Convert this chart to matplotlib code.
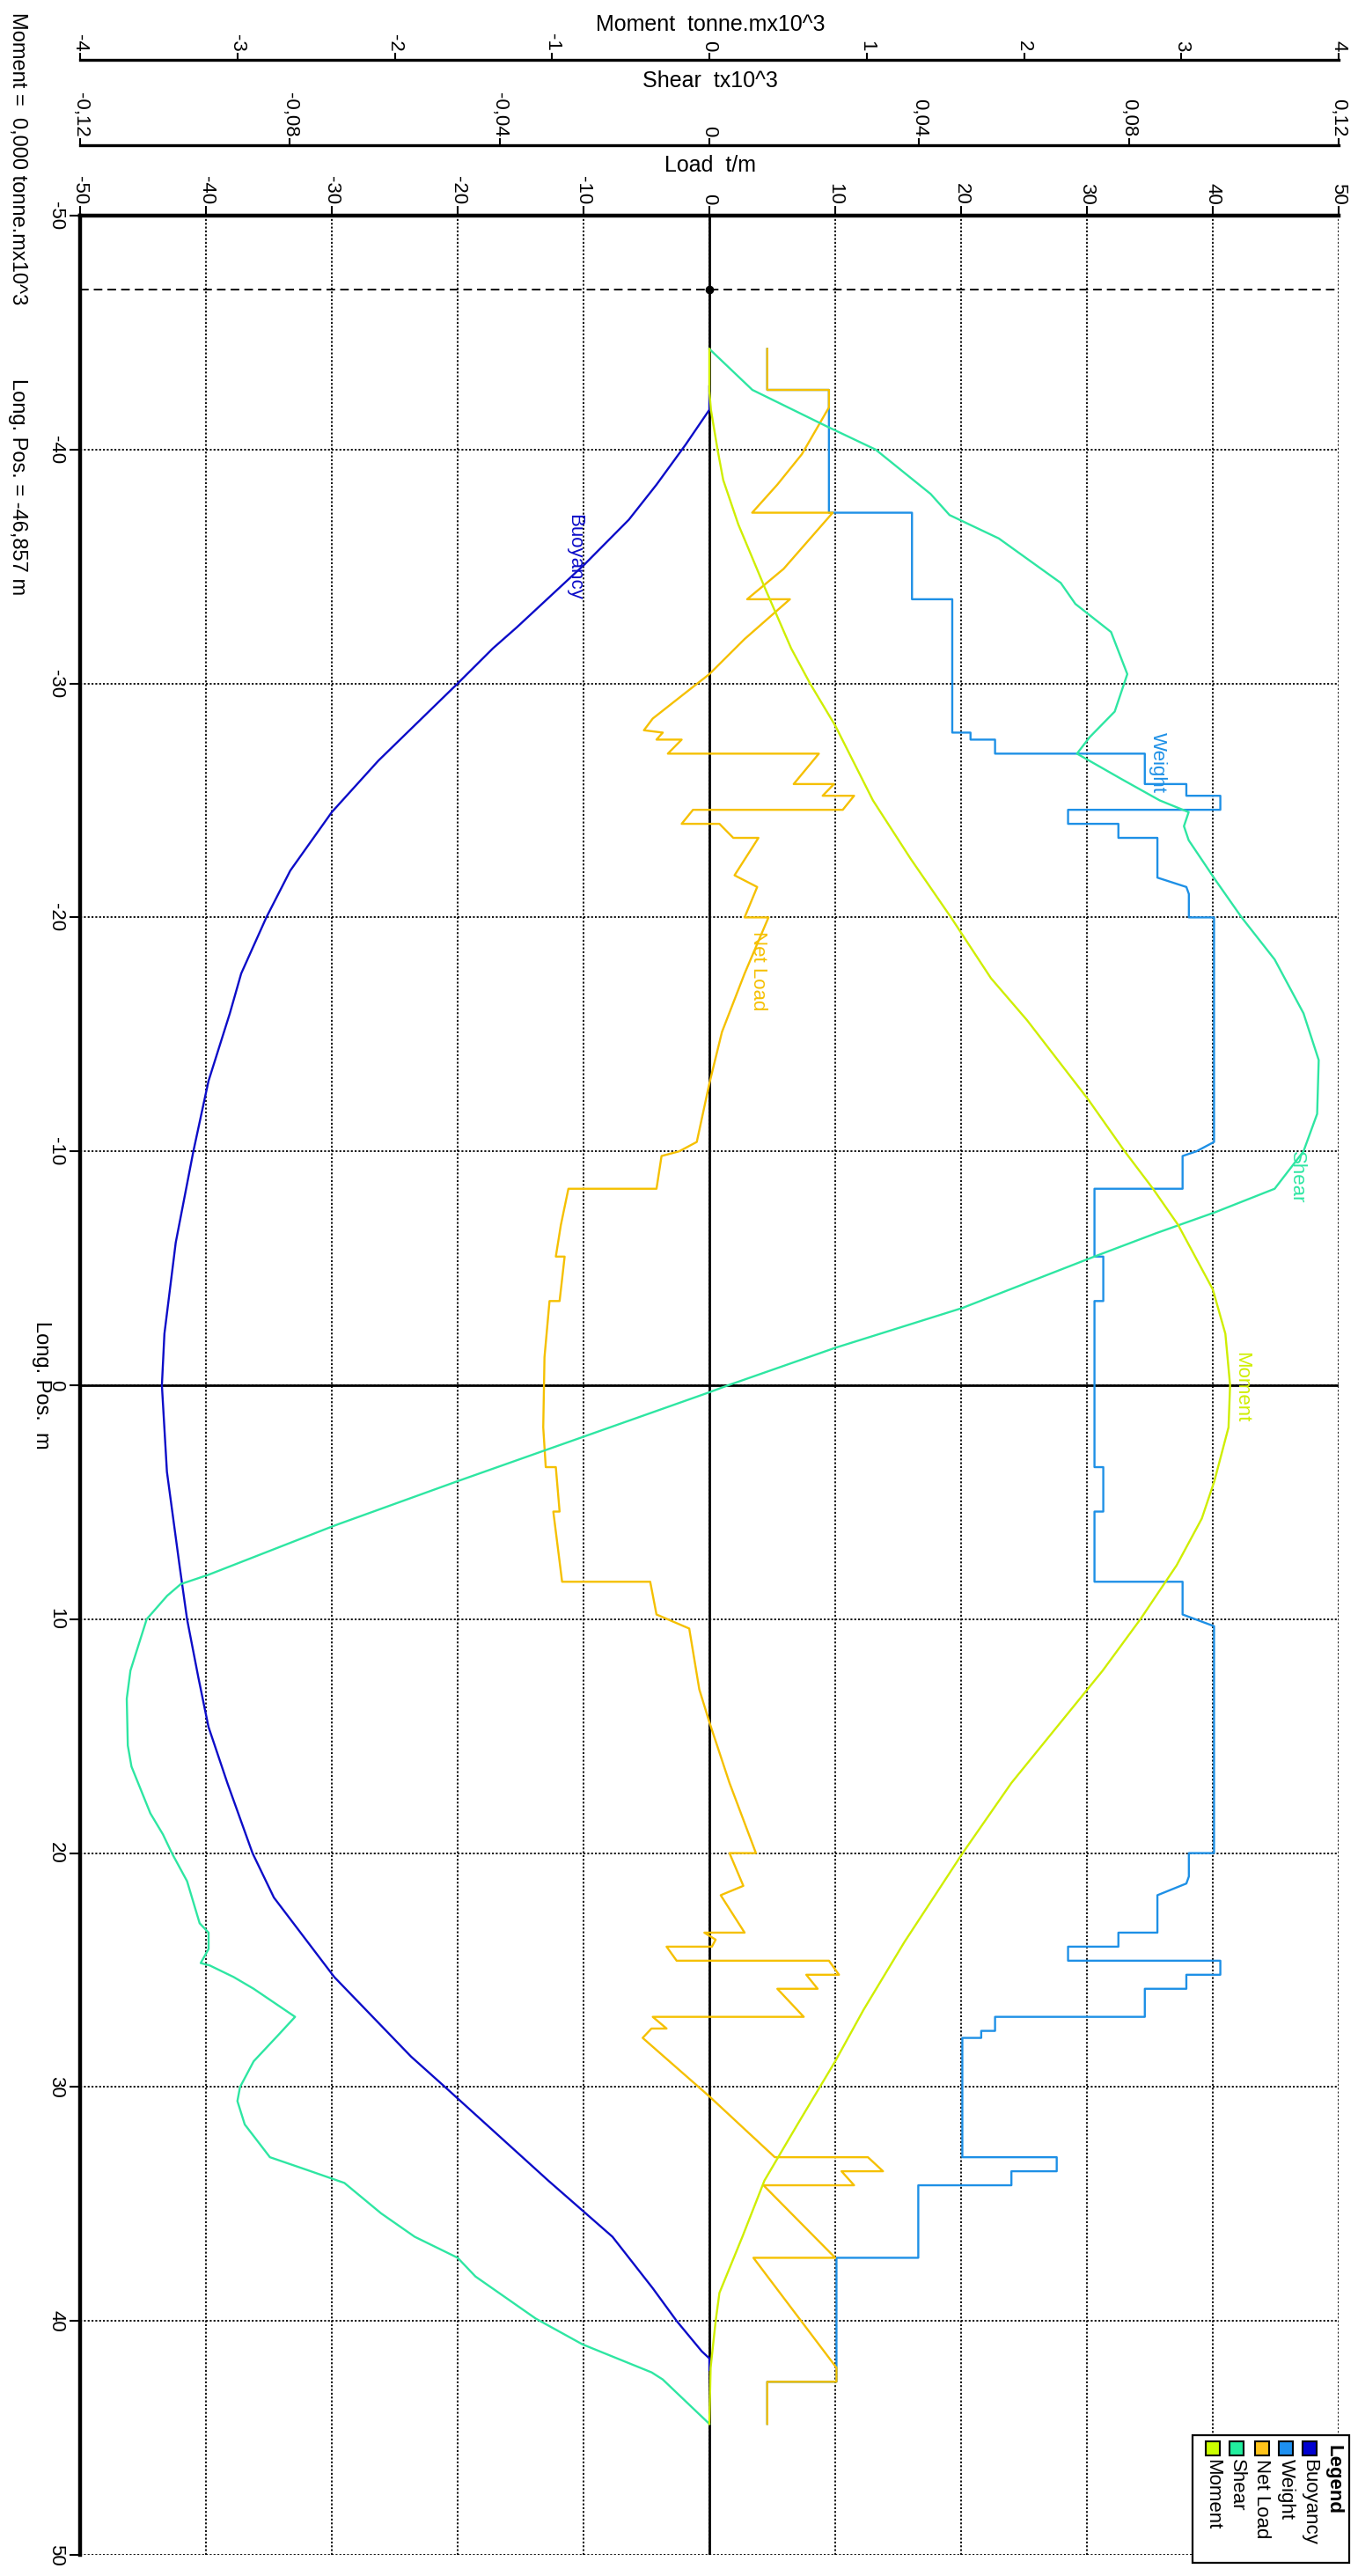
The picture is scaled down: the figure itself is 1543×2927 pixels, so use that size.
import matplotlib
matplotlib.use("Agg")
import matplotlib.pyplot as plt
from matplotlib.patches import Rectangle

plt.rcParams['font.family'] = ['Liberation Sans', 'DejaVu Sans']

# ---------------- data ----------------
load_ticks = [-50, -40, -30, -20, -10, 0, 10, 20, 30, 40, 50]
load_tick_labels = ["-50", "-40", "-30", "-20", "-10", "0", "10", "20", "30", "40", "50"]
shear_ticks = [-0.12, -0.08, -0.04, 0.0, 0.04, 0.08, 0.12]
shear_tick_labels = ["-0,12", "-0,08", "-0,04", "0", "0,04", "0,08", "0,12"]
moment_ticks = [-4, -3, -2, -1, 0, 1, 2, 3, 4]
moment_tick_labels = ["-4", "-3", "-2", "-1", "0", "1", "2", "3", "4"]
pos_ticks = [-50, -40, -30, -20, -10, 0, 10, 20, 30, 40, 50]
pos_tick_labels = ["-50", "-40", "-30", "-20", "-10", "0", "10", "20", "30", "40", "50"]

cursor_pos = -46.857
cursor_moment = 0.0

buoy_pos = [-42.7, -41.7, -40.2, -38.5, -37.0, -35.1, -32.4, -31.5, -30.0, -26.7, -24.5,
            -22.0, -20.0, -17.6, -15.9, -13.0, -10.0, -6.1, -2.2, 0.0, 3.7, 7.7, 10.0,
            12.5, 14.6, 17.0, 20.0, 21.9, 25.3, 28.7, 30.0, 34.0, 36.4, 38.6, 40.0,
            41.3, 41.6, 42.1]
buoy_val = [0.0, 0.0, -1.9, -4.2, -6.4, -9.9, -15.3, -17.2, -20.0, -26.3, -30.0,
            -33.3, -35.2, -37.2, -38.1, -39.8, -41.0, -42.4, -43.3, -43.5, -43.1, -42.1, -41.5,
            -40.6, -39.8, -38.3, -36.3, -34.6, -29.8, -23.7, -21.0, -12.8, -7.7, -4.5, -2.6,
            -0.6, 0.0, 0.0]

weight_pos = [-44.3, -42.55, -42.55, -37.3, -37.3, -33.6, -33.6, -27.9, -27.9, -27.6, -27.6,
              -27.0, -27.0, -25.7, -25.7, -25.2, -25.2, -24.6, -24.6, -24.0, -24.0, -23.4,
              -23.4, -21.7, -21.3, -21.0, -20.0, -20.0, -10.4, -10.0, -9.8, -8.4, -8.4,
              -5.5, -5.5, -3.6, -3.6, 3.5, 3.5, 5.4, 5.4, 8.4, 8.4, 9.8, 10.3, 20.0, 20.0,
              21.0, 21.3, 21.8, 23.4, 23.4, 24.0, 24.0, 24.6, 24.6, 25.2, 25.2, 25.8, 25.8,
              27.0, 27.0, 27.6, 27.6, 27.9, 27.9, 33.0, 33.0, 33.6, 33.6, 34.2, 34.2, 37.3,
              37.3, 42.6, 42.6, 44.4]
weight_val = [4.6, 4.6, 9.5, 9.5, 16.1, 16.1, 19.3, 19.3, 20.75, 20.75, 22.7,
              22.7, 34.6, 34.6, 37.9, 37.9, 40.6, 40.6, 28.5, 28.5, 32.5, 32.5,
              35.6, 35.6, 37.9, 38.1, 38.1, 40.1, 40.1, 38.7, 37.6, 37.6, 30.6,
              30.6, 31.3, 31.3, 30.6, 30.6, 31.3, 31.3, 30.6, 30.6, 37.6, 37.6, 40.1, 40.1, 38.1,
              38.1, 37.9, 35.6, 35.6, 32.5, 32.5, 28.5, 28.5, 40.6, 40.6, 37.9, 37.9, 34.6,
              34.6, 22.7, 22.7, 21.6, 21.6, 20.1, 20.1, 27.6, 27.6, 24.0, 24.0, 16.6, 16.6,
              10.1, 10.1, 4.6, 4.6]

net_pos = [-44.3, -42.55, -42.55, -41.8, -39.8, -38.5, -37.3, -37.3, -34.9, -33.6, -33.6,
           -31.9, -30.4, -29.6, -28.5, -28.0, -27.9, -27.6, -27.6, -27.0, -27.0, -25.7,
           -25.7, -25.2, -25.2, -24.6, -24.6, -24.0, -24.0, -23.4, -23.4, -21.8, -21.3,
           -20.0, -20.0, -17.6, -15.1, -12.9, -10.4, -10.0, -9.8, -8.4, -8.4, -6.85, -5.5,
           -5.5, -3.6, -3.6, -1.2, 1.8, 3.5, 3.5, 5.4, 5.4, 8.4, 8.4, 9.8, 10.4, 13.0,
           14.4, 17.0, 20.0, 20.0, 21.4, 21.8, 23.4, 23.4, 23.7, 24.0, 24.0, 24.6, 24.6,
           25.2, 25.2, 25.8, 25.8, 27.0, 27.0, 27.5, 27.5, 27.9, 30.4, 31.8, 33.0, 33.0,
           33.6, 33.6, 34.2, 34.2, 37.3, 37.3, 42.0, 42.6, 42.6, 44.4]
net_val = [4.6, 4.6, 9.5, 9.5, 7.35, 5.4, 3.4, 9.8, 5.9, 3.0, 6.4,
           2.8, 0.0, -1.9, -4.5, -5.2, -3.7, -4.2, -2.2, -3.3, 8.7, 6.7,
           9.9, 9.0, 11.5, 10.6, -1.3, -2.2, 0.8, 1.9, 3.9, 2.0, 3.8,
           2.8, 4.7, 2.8, 1.0, 0.0, -1.0, -2.4, -3.8, -4.2, -11.2, -11.8, -12.2,
           -11.5, -11.9, -12.7, -13.1, -13.2, -13.0, -12.2, -11.9, -12.4, -11.7, -4.7, -4.2, -1.6, -0.8,
           0.0, 1.6, 3.7, 1.6, 2.7, 0.9, 2.8, -0.4, 0.5, 0.2, -3.4, -2.6, 9.5,
           10.3, 7.7, 8.6, 5.4, 7.5, -4.5, -3.4, -4.6, -5.3, 0.0, 2.8, 5.2, 12.6,
           13.8, 10.5, 11.5, 4.3, 10.0, 3.5, 10.1, 10.1, 4.6, 4.6]

shear_pos = [-44.3, -42.55, -41.0, -40.0, -38.1, -37.2, -36.2, -34.3, -33.4, -32.2, -30.4,
             -28.8, -27.7, -27.0, -25.9, -25.0, -24.5, -23.9, -23.3, -21.6, -20.0, -18.2,
             -15.9, -13.9, -11.6, -10.0, -8.4, -7.4, -6.5, -5.5, -3.3, -1.6, 0.0, 0.3,
             2.2, 4.1, 6.0, 8.1, 8.5, 9.0, 10.0, 12.2, 13.4, 15.4, 16.3, 18.3, 19.2, 20.0,
             21.2, 23.0, 23.4, 24.1, 24.7, 24.8, 25.3, 25.8, 27.0, 27.8, 28.9, 30.0, 30.6,
             31.6, 33.0, 33.5, 34.1, 35.4, 36.4, 37.3, 38.1, 39.9, 41.0, 42.2, 42.5, 44.4]
shear_val = [0.0, 0.0082, 0.0223, 0.0317, 0.0422, 0.0458, 0.0552, 0.0670, 0.0698, 0.0766, 0.0797,
             0.0773, 0.0725, 0.0701, 0.0787, 0.0859, 0.0914, 0.0905, 0.0914, 0.0965, 0.1015, 0.1078,
             0.1133, 0.1162, 0.1159, 0.1133, 0.1078, 0.0965, 0.0852, 0.0734, 0.0482, 0.0240, 0.0036, 0.0,
             -0.0240, -0.0480, -0.0715, -0.0955, -0.1008, -0.1034, -0.1073, -0.1104, -0.1111, -0.1109,
             -0.1102, -0.1066, -0.1042, -0.1025,
             -0.0996, -0.0972, -0.0955, -0.0955, -0.0970, -0.0953, -0.0907, -0.0869, -0.0790, -0.0823,
             -0.0869, -0.0895, -0.0900,
             -0.0886, -0.0838, -0.0773, -0.0696, -0.0626, -0.0562, -0.0480, -0.0446, -0.0331, -0.0242,
             -0.0110, -0.0089, 0.0]

moment_pos = [-44.3, -42.5, -41.7, -40.0, -38.7, -36.8, -34.1, -31.5, -30.0, -28.2, -25.0,
              -22.5, -20.0, -17.4, -15.6, -12.2, -10.0, -8.4, -6.85, -4.1, -2.2, 0.0, 1.8,
              4.1, 5.7, 7.7, 10.0, 12.2, 14.6, 17.0, 20.0, 23.8, 26.7, 28.9, 31.6, 34.0,
              36.4, 38.8, 40.0, 42.0, 44.4]
moment_val = [0.0, 0.0, 0.01, 0.052, 0.088, 0.184, 0.352, 0.52, 0.64, 0.80, 1.04,
              1.28, 1.536, 1.79, 2.02, 2.41, 2.64, 2.82, 2.98, 3.20, 3.28, 3.31, 3.30,
              3.21, 3.13, 2.97, 2.74, 2.50, 2.21, 1.92, 1.61, 1.24, 0.98, 0.80, 0.56, 0.35,
              0.21, 0.064, 0.04, 0.008, 0.0]

series_names = ["Buoyancy", "Weight", "Net Load", "Shear", "Moment"]
colors = {"Buoyancy": "#0c0cc8", "Weight": "#1e90e6", "Net Load": "#f5c000",
          "Shear": "#2ee6a2", "Moment": "#cfee00"}
legend_colors = {"Buoyancy": "#0000d0", "Weight": "#1e90f0", "Net Load": "#ffc41a",
                 "Shear": "#22ee9e", "Moment": "#ccff00"}

# ---------------- figure ----------------
W, H = 1543, 2927
fig = plt.figure(figsize=(W / 100, H / 100), dpi=100)
fig.patch.set_facecolor("white")

x0, x1 = 91, 1521
y_top, y_bot = 245, 2903
ax = fig.add_axes([x0 / W, 1 - y_bot / H, (x1 - x0) / W, (y_bot - y_top) / H])
ax_sh = ax.twiny()
ax_mo = ax.twiny()

ax.set_xlim(-50, 50)
ax.set_ylim(50, -50)
ax.xaxis.tick_top()
ax.set_xticks(load_ticks)
ax.set_xticklabels(load_tick_labels, rotation=-90, fontsize=16)
ax.set_yticks(pos_ticks)
ax.set_yticklabels(pos_tick_labels, rotation=-90, fontsize=16, va="center")
ax.tick_params(axis="x", which="both", direction="out", length=8, width=1.5, pad=1,
               top=True, bottom=False, labeltop=True, labelbottom=False)
ax.tick_params(axis="y", direction="out", length=9, width=1.5, pad=3)
for s in ["right", "bottom"]:
    ax.spines[s].set_visible(False)
ax.spines["top"].set_linewidth(3.2)
ax.spines["left"].set_linewidth(3.2)
ax.grid(True, color="black", linestyle=(0, (1.2, 1.2)), linewidth=1.3)
ax.set_axisbelow(True)
ax.axvline(0, color="black", lw=2.0, zorder=1.5)
ax.axhline(0, color="black", lw=2.0, zorder=1.5)

# twin axes for shear / moment
axis_h = y_bot - y_top
for tax, lim, ticks, labels, ypix in [
        (ax_sh, (-0.12, 0.12), shear_ticks, shear_tick_labels, 165),
        (ax_mo, (-4, 4), moment_ticks, moment_tick_labels, 68)]:
    tax.set_xlim(*lim)
    tax.xaxis.tick_top()
    tax.spines["top"].set_position(("axes", 1 + (y_top - ypix) / axis_h))
    tax.spines["top"].set_linewidth(2.4)
    for s in ["left", "right", "bottom"]:
        tax.spines[s].set_visible(False)
    tax.set_xticks(ticks)
    tax.set_xticklabels(labels, rotation=-90, fontsize=16)
    tax.tick_params(axis="x", direction="out", length=6, width=1.5, pad=1)
    tax.grid(False)

# cursor line
ax.axhline(cursor_pos, color="black", lw=1.4, linestyle=(0, (5, 3)), zorder=2)

lw = 1.7
ax.plot(buoy_val, buoy_pos, color=colors["Buoyancy"], lw=lw, zorder=3)
ax.plot(weight_val, weight_pos, color=colors["Weight"], lw=lw, zorder=3)
ax.plot(net_val, net_pos, color=colors["Net Load"], lw=lw, zorder=3)
ax_sh.plot(shear_val, shear_pos, color=colors["Shear"], lw=lw, zorder=3)
ax_mo.plot(moment_val, moment_pos, color=colors["Moment"], lw=lw, zorder=3)
ax_mo.plot([cursor_moment], [cursor_pos], "o", color="black", ms=6, zorder=4)

# in-plot curve labels (load-axis coordinates)
label_spots = {"Buoyancy": (-10.7, -35.4), "Weight": (35.6, -26.6), "Net Load": (3.9, -17.7),
               "Shear": (46.7, -8.9), "Moment": (42.3, 0.1)}
for name, (lx, ly) in label_spots.items():
    ax.text(lx, ly, name, rotation=-90, color=colors[name], fontsize=16,
            ha="center", va="center", zorder=5)

# axis titles
def fx(px):
    return px / W

def fy(py):
    return 1 - py / H

fig.text(fx(807), fy(28), "Moment  tonne.mx10^3", fontsize=18, ha="center", va="center")
fig.text(fx(807), fy(92), "Shear  tx10^3", fontsize=18, ha="center", va="center")
fig.text(fx(807), fy(188), "Load  t/m", fontsize=18, ha="center", va="center")

# left side texts
fig.text(fx(20), fy(14), "Moment =  0,000 tonne.mx10^3", rotation=-90, fontsize=17,
         ha="center", va="top")
fig.text(fx(20), fy(430), "Long. Pos. = -46,857 m", rotation=-90, fontsize=17,
         ha="center", va="top")
fig.text(fx(47), fy(1574), "Long. Pos.  m", rotation=-90, fontsize=17,
         ha="center", va="center")

# manual rotated legend
lg_x0, lg_x1, lg_y0, lg_y1 = 1355, 1533, 2767, 2912
fig.add_artist(Rectangle((fx(lg_x0), fy(lg_y1)), (lg_x1 - lg_x0) / W, (lg_y1 - lg_y0) / H,
                         transform=fig.transFigure, facecolor="white", edgecolor="black",
                         lw=1.6, zorder=10))
fig.text(fx(1515), fy(2778), "Legend", rotation=-90, fontsize=16, fontweight="bold",
         ha="center", va="top", zorder=11)
legend_x = [1488, 1461, 1434, 1405, 1378]
sq = 16
for name, cx in zip(series_names, legend_x):
    fig.add_artist(Rectangle((fx(cx - sq / 2), fy(2790)), sq / W, sq / H,
                             transform=fig.transFigure, facecolor=legend_colors[name],
                             edgecolor="black", lw=1.5, zorder=11))
    fig.text(fx(cx), fy(2794), name, rotation=-90, fontsize=16, ha="center", va="top",
             zorder=11)

fig.savefig("out.png", dpi=100, facecolor="white")
